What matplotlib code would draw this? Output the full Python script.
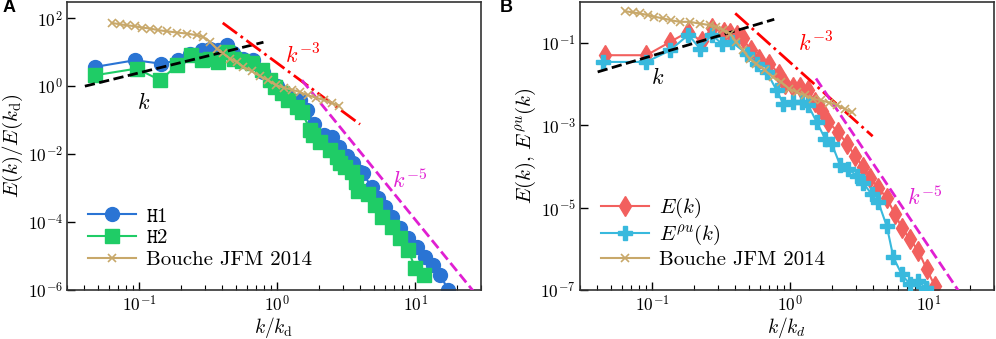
import matplotlib

matplotlib.use('Agg')
import matplotlib.pyplot as plt
import matplotlib.ticker as mticker
import numpy as np

plt.rcParams['font.family'] = 'serif'
plt.rcParams['font.serif'] = ['cmr10']
plt.rcParams['mathtext.fontset'] = 'cm'
plt.rcParams['axes.formatter.use_mathtext'] = True
plt.rcParams['axes.unicode_minus'] = False

# ---- panel A data ----
k_h1 = [0.048, 0.093, 0.144, 0.191, 0.233, 0.284, 0.326, 0.374, 0.431, 0.479, 0.569, 0.673,
        0.795, 1.0, 1.17, 1.46, 1.64, 1.85, 2.2, 2.48, 2.8, 3.19, 3.55, 3.98, 4.15, 4.84, 5.4,
        6.04, 6.76, 7.76, 8.9, 10.3, 11.8, 13.5, 15.1, 17.4]
e_h1 = [3.7, 5.8, 4.6, 5.8, 9.1, 12, 12.8, 11.5, 16, 9.5, 6.5, 5.8,
        2.6, 1.0, 0.54, 0.38, 0.2, 0.075, 0.037, 0.032, 0.016, 0.0088, 0.0055, 0.003, 0.0027,
        1.1e-3, 5e-4, 2.8e-4, 1.4e-4, 6.5e-5, 3.3e-5, 1.86e-5, 9.6e-6, 5.5e-6, 2.8e-6, 1e-6]

k_h2 = [0.048, 0.096, 0.142, 0.188, 0.237, 0.284, 0.326, 0.374, 0.431, 0.49, 0.56, 0.653,
        0.77, 0.89, 0.96, 1.08, 1.2, 1.38, 1.51, 1.73, 1.83, 2.04, 2.41, 2.70, 2.85, 3.10,
        3.47, 3.7, 3.87, 4.57, 5.11, 5.71, 6.76, 7.76, 8.9, 10.0, 11.5]
e_h2 = [2.1, 3.3, 1.5, 4.1, 8.2, 5.8, 6.5, 5.2, 10, 6.5, 5.5, 4.7,
        3.0, 1.5, 0.95, 0.61, 0.39, 0.25, 0.175, 0.051, 0.036, 0.023, 0.013, 0.0083, 0.0054, 0.0043,
        0.003, 0.0015, 8e-4, 6.9e-4, 3.2e-4, 1.4e-4, 7.3e-5, 3.3e-5, 1.5e-5, 4.4e-6, 2.8e-6]

k_bouche = [0.0632, 0.0726, 0.0813, 0.0933, 0.104, 0.120, 0.138, 0.158, 0.187, 0.221,
            0.261, 0.292, 0.326, 0.365, 0.407, 0.455, 0.509, 0.569, 0.653, 0.751,
            0.859, 0.98, 1.12, 1.28, 1.46, 1.67, 1.91, 2.18, 2.49, 2.8]
e_bouche_a = [72.7, 66.6, 62.2, 58.2, 53.3, 49.8, 44.4, 41.5, 38, 35.5,
              31.6, 28.2, 20.1, 12.8, 9.2, 6.5, 5.2, 3.7, 2.76, 1.97,
              1.5, 1.07, 0.90, 0.79, 0.67, 0.54, 0.46, 0.39, 0.32, 0.27]
e_bouche_b = [0.60, 0.56, 0.53, 0.48, 0.44, 0.40, 0.36, 0.33, 0.33, 0.30,
              0.275, 0.25, 0.21, 0.17, 0.108, 0.067, 0.042, 0.032, 0.022, 0.015,
              0.0114, 0.0079, 0.0064, 0.0054, 0.0045, 0.0041, 0.0036, 0.0032, 0.0025, 0.0021]

# ---- panel B data ----
k_e = [0.0455, 0.091, 0.135, 0.183, 0.228, 0.27, 0.33, 0.366, 0.41, 0.453, 0.52, 0.597,
       0.706, 0.834, 0.918, 1.05, 1.18, 1.35, 1.51, 1.69, 1.89, 2.23, 2.57, 2.95, 3.39,
       3.79, 4.36, 5.01, 5.75, 6.43, 7.38, 8.49, 9.75, 11.2]
e_e = [0.051, 0.051, 0.107, 0.19, 0.11, 0.23, 0.19, 0.172, 0.16, 0.13, 0.067, 0.042,
       0.032, 0.018, 0.0104, 0.0086, 0.0086, 0.0071, 0.0037, 0.0023, 0.0012, 6.9e-4, 3.6e-4,
       1.85e-4, 9.6e-5, 5.4e-5, 3.1e-5, 1.7e-5, 7e-6, 3.3e-6, 1.7e-6, 9e-7, 3.2e-7, 1.25e-7]

k_rhou = [0.0443, 0.091, 0.135, 0.183, 0.222, 0.27, 0.319, 0.377, 0.484, 0.571, 0.676,
          0.80, 0.89, 1.05, 1.21, 1.35, 1.56, 1.79, 2.0, 2.30, 2.64, 3.03, 3.39, 3.90,
          4.36, 5.01, 5.6, 6.43, 7.38, 8.49, 9.6, 10.6]
e_rhou = [0.035, 0.035, 0.067, 0.16, 0.074, 0.16, 0.098, 0.107, 0.056, 0.032, 0.020,
          0.0071, 0.0034, 0.0037, 0.0037, 0.0031, 0.0012, 4.8e-4, 3.6e-4, 1.1e-4, 8.7e-5, 6e-5,
          4e-5, 2.1e-5, 1.35e-5, 3.6e-6, 6.2e-7, 2.4e-7, 1.38e-7, 1.66e-7, 1.1e-7, 5e-8]

# reference power laws: (coefficient, k range)
ref_a = {'k1': (24.75, 0.0404, 0.795), 'k3': (4.77, 0.403, 3.98), 'k5': (11.8, 1.51, 30)}
ref_b = {'k1': (0.496, 0.0403, 0.767), 'k3': (0.034, 0.40, 3.96), 'k5': (0.12, 1.54, 20)}
slopes = {'k1': 1, 'k3': -3, 'k5': -5}

c_h1 = '#2a74d4'
c_h2 = '#1fcc66'
c_bouche = '#c8a86a'
c_e = '#f2605e'
c_rhou = '#38b9dd'
c_mag = '#e01fd2'

fig = plt.figure(figsize=(9.96, 3.39), dpi=100)
axA = fig.add_axes([0.0673, 0.1445, 0.4157, 0.8495])
axB = fig.add_axes([0.5823, 0.1445, 0.4157, 0.8495])
for ax in (axA, axB):
    ax.set_xscale('log')
    ax.set_yscale('log')


def draw_refs(ax, refs):
    for key, ls in [('k1', '--'), ('k3', '-.'), ('k5', '--')]:
        c, k0, k1 = refs[key]
        kk = np.array([k0, k1])
        col = {'k1': 'black', 'k3': 'red', 'k5': c_mag}[key]
        ax.plot(kk, c * kk ** slopes[key], ls=ls, color=col, lw=2, zorder=4)


# panel A
axA.plot(k_h1, e_h1, '-o', color=c_h1, ms=10, lw=1.5, label=r'$\mathtt{H1}$', zorder=2)
axA.plot(k_h2, e_h2, '-s', color=c_h2, ms=10, lw=1.5, label=r'$\mathtt{H2}$', zorder=3)
draw_refs(axA, ref_a)
axA.plot(k_bouche, e_bouche_a, '-x', color=c_bouche, ms=6, lw=1.5, mew=1.2,
         label='Bouche JFM 2014', zorder=5)
axA.text(0.107, 0.32, r'$k$', fontsize=16, ha='center', va='center')
axA.text(1.54, 8.2, r'$k^{-3}$', fontsize=16, color='red', ha='center', va='center')
axA.text(9.2, 1.7e-3, r'$k^{-5}$', fontsize=16, color=c_mag, ha='center', va='center')
axA.set_ylim(1e-6, 300)
axA.set_yticks([1e-6, 1e-4, 1e-2, 1e0, 1e2])
axA.set_xlabel(r'$k/k_\mathrm{d}$', fontsize=14, labelpad=0)
axA.set_ylabel(r'$E(k)/E(k_\mathrm{d})$', fontsize=15, labelpad=2)

# panel B
axB.plot(k_e, e_e, '-d', color=c_e, ms=10, lw=1.5, label=r'$E(k)$', zorder=2)
axB.plot(k_rhou, e_rhou, '-P', color=c_rhou, ms=10, lw=1.5, label=r'$E^{\rho u}(k)$', zorder=3)
draw_refs(axB, ref_b)
axB.plot(k_bouche, e_bouche_b, '-x', color=c_bouche, ms=6, lw=1.5, mew=1.2,
         label='Bouche JFM 2014', zorder=5)
axB.text(0.11, 0.015, r'$k$', fontsize=16, ha='center', va='center')
axB.text(1.54, 0.1, r'$k^{-3}$', fontsize=16, color='red', ha='center', va='center')
axB.text(9.4, 1.8e-5, r'$k^{-5}$', fontsize=16, color=c_mag, ha='center', va='center')
axB.set_ylim(1e-7, 1)
axB.set_yticks([1e-7, 1e-5, 1e-3, 1e-1])
axB.set_xlabel(r'$k/k_d$', fontsize=14, labelpad=0)
axB.set_ylabel(r'$E(k),\, E^{\rho u}(k)$', fontsize=15, labelpad=2)

for ax in (axA, axB):
    ax.set_xlim(0.03, 30)
    ax.set_xticks([0.1, 1, 10])
    ax.xaxis.set_minor_locator(mticker.LogLocator(subs=np.arange(2, 10)))
    ax.xaxis.set_minor_formatter(mticker.NullFormatter())
    ax.yaxis.set_minor_locator(mticker.NullLocator())
    ax.tick_params(which='both', direction='in', labelsize=12.5, top=False, right=False)
    ax.tick_params(which='major', length=6, width=1, pad=3)
    ax.tick_params(which='minor', length=3.5, width=0.8)
    for s in ax.spines.values():
        s.set_color('#333333')
        s.set_linewidth(1.2)
    ax.legend(loc='lower left', frameon=False, fontsize=15, handlelength=2.3,
              labelspacing=0.15, borderaxespad=0.6, handletextpad=0.5)

fig.text(0.003, 0.965, 'A', fontsize=13, fontweight='bold', family='Liberation Sans')
fig.text(0.502, 0.965, 'B', fontsize=13, fontweight='bold', family='Liberation Sans')

fig.savefig('out.png', dpi=100)
